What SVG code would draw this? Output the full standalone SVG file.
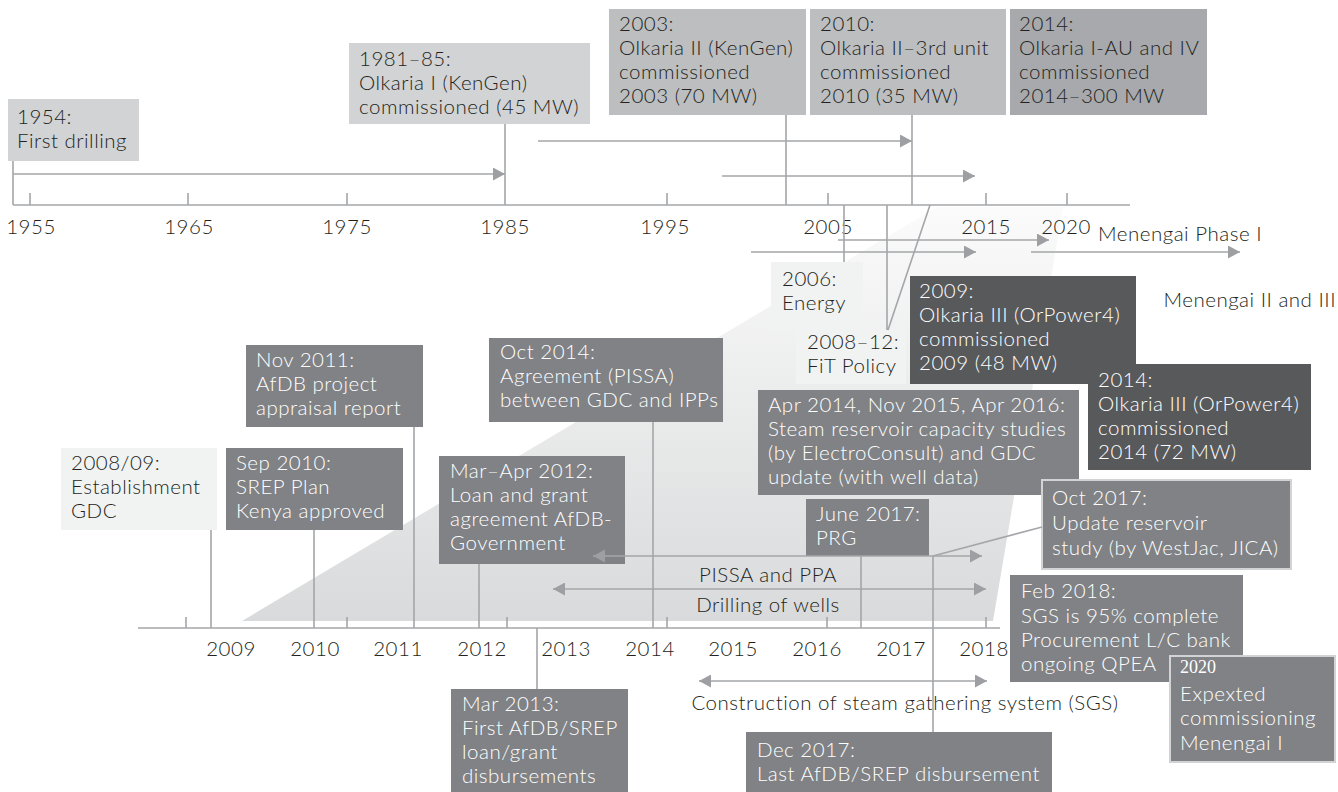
<svg xmlns="http://www.w3.org/2000/svg" width="1338" height="792" viewBox="0 0 1338 792">
<defs>
<style>
.t{font-family:Lato,"Liberation Sans",sans-serif;font-size:20.5px;font-weight:300;letter-spacing:0.5px;fill:#231f20}
.w{fill:#ffffff}
.m{text-anchor:middle}
.e{text-anchor:end}
.ln{stroke:#a4a6a9;stroke-width:1.6;fill:none}
.ar{marker-end:url(#ah)}
.da{marker-start:url(#ahs);marker-end:url(#ah)}
.b1{fill:#d1d3d4}
.b2{fill:#bcbec0}
.b3{fill:#a7a9ac}
.bm{fill:#808285}
.bd{fill:#58595b}
.bl{fill:#f1f2f2}
.bo{stroke:#d1d3d4;stroke-width:2}
</style>
<marker id="ah" markerUnits="userSpaceOnUse" markerWidth="12" markerHeight="13" refX="12" refY="6.5" orient="auto"><path d="M0,0 L12,6.5 L0,13 z" fill="#9d9fa2"/></marker>
<marker id="ahs" markerUnits="userSpaceOnUse" markerWidth="12" markerHeight="13" refX="12" refY="6.5" orient="auto-start-reverse"><path d="M0,0 L12,6.5 L0,13 z" fill="#9d9fa2"/></marker>
<linearGradient id="zg" x1="0" y1="207" x2="0" y2="621" gradientUnits="userSpaceOnUse"><stop offset="0" stop-color="#fbfbfb"/><stop offset="1" stop-color="#d9dadb"/></linearGradient>
</defs>
<rect width="1338" height="792" fill="#ffffff"/>
<polygon points="242,621 993,621 1063,207 937,207" fill="url(#zg)"/>

<g id="axis-top">
<line class="ln" x1="13" y1="205" x2="1130" y2="205"/>
<path class="ln" d="M30,193V205 M188,193V205 M347,193V205 M667,193V205 M828,193V205 M986,193V205 M1067,193V205"/>
<g class="t m">
<text x="31" y="234">1955</text><text x="189" y="234">1965</text><text x="347" y="234">1975</text><text x="505" y="234">1985</text>
<text x="665" y="234">1995</text><text x="828" y="234">2005</text><text x="986" y="234">2015</text><text x="1066" y="234">2020</text>
</g>
<text class="t" x="1098" y="241">Menengai Phase I</text>
<text class="t e" x="1336" y="307">Menengai II and III</text>
</g>

<g id="axis-bottom">
<line class="ln" x1="138" y1="628" x2="1000" y2="628"/>
<path class="ln" d="M186,617V628 M347,617V628 M507,617V628 M667,617V628 M827,617V628 M986,617V628"/>
<g class="t m">
<text x="231" y="656">2009</text><text x="315" y="656">2010</text><text x="398" y="656">2011</text><text x="482" y="656">2012</text><text x="566" y="656">2013</text>
<text x="650" y="656">2014</text><text x="733" y="656">2015</text><text x="817" y="656">2016</text><text x="901" y="656">2017</text><text x="984" y="656">2018</text>
</g>
<text class="t m" x="768" y="582">PISSA and PPA</text>
<text class="t m" x="768" y="612">Drilling of wells</text>
<text class="t m" x="905" y="710">Construction of steam gathering system (SGS)</text>
</g>

<g id="n1954"><rect class="b1" x="8" y="99" width="131" height="62"/><text class="t" x="17" y="124">1954:</text><text class="t" x="17" y="148">First drilling</text></g>
<g id="n1981"><rect class="b1" x="349" y="43" width="241" height="81"/><text class="t" x="359" y="66">1981–85:</text><text class="t" x="359" y="90">Olkaria I (KenGen)</text><text class="t" x="359" y="114">commissioned (45 MW)</text></g>
<g id="n2003"><rect class="b2" x="609" y="9" width="197" height="106"/><text class="t" x="619" y="31">2003:</text><text class="t" x="619" y="55">Olkaria II (KenGen)</text><text class="t" x="619" y="79">commissioned</text><text class="t" x="619" y="103">2003 (70 MW)</text></g>
<g id="n2010"><rect class="b2" x="810" y="9" width="196" height="106"/><text class="t" x="820" y="31">2010:</text><text class="t" x="820" y="55">Olkaria II–3rd unit</text><text class="t" x="820" y="79">commissioned</text><text class="t" x="820" y="103">2010 (35 MW)</text></g>
<g id="n2014a"><rect class="b3" x="1010" y="9" width="197" height="106"/><text class="t" x="1019" y="31">2014:</text><text class="t" x="1019" y="55">Olkaria I-AU and IV</text><text class="t" x="1019" y="79">commissioned</text><text class="t" x="1019" y="103">2014–300 MW</text></g>

<g id="n2006"><rect class="bl" x="771" y="262" width="92" height="68"/><text class="t" x="782" y="286">2006:</text><text class="t" x="782" y="310">Energy</text></g>
<g id="nFiT"><rect class="bl" x="796" y="330" width="110" height="54"/><text class="t" x="807" y="349">2008–12:</text><text class="t" x="807" y="373">FiT Policy</text></g>
<g id="n2009"><rect class="bd" x="910" y="276" width="226" height="108"/><text class="t w" x="919" y="298">2009:</text><text class="t w" x="919" y="322">Olkaria III (OrPower4)</text><text class="t w" x="919" y="346">commissioned</text><text class="t w" x="919" y="370">2009 (48 MW)</text></g>
<g id="n2014b"><rect class="bd" x="1088" y="364" width="223" height="106"/><text class="t w" x="1098" y="387">2014:</text><text class="t w" x="1098" y="411">Olkaria III (OrPower4)</text><text class="t w" x="1098" y="435">commissioned</text><text class="t w" x="1098" y="459">2014 (72 MW)</text></g>

<g id="nNov2011"><rect class="bm" x="246" y="345" width="177" height="82"/><text class="t w" x="256" y="367">Nov 2011:</text><text class="t w" x="256" y="391">AfDB project</text><text class="t w" x="256" y="415">appraisal report</text></g>
<g id="n2008"><rect class="bl" x="61" y="448" width="156" height="82"/><text class="t" x="71" y="470">2008/09:</text><text class="t" x="71" y="494">Establishment</text><text class="t" x="71" y="518">GDC</text></g>
<g id="nSep2010"><rect class="bm" x="226" y="448" width="177" height="82"/><text class="t w" x="236" y="470">Sep 2010:</text><text class="t w" x="236" y="494">SREP Plan</text><text class="t w" x="236" y="518">Kenya approved</text></g>
<g id="nOct2014"><rect class="bm" x="489" y="338" width="234" height="84"/><text class="t w" x="500" y="359">Oct 2014:</text><text class="t w" x="500" y="383">Agreement (PISSA)</text><text class="t w" x="500" y="407">between GDC and IPPs</text></g>
<g id="nMarApr2012"><rect class="bm" x="439" y="456" width="186" height="108"/><text class="t w" x="450" y="478">Mar–Apr 2012:</text><text class="t w" x="450" y="502">Loan and grant</text><text class="t w" x="450" y="526">agreement AfDB-</text><text class="t w" x="450" y="550">Government</text></g>
<g id="nApr2014"><rect class="bm" x="758" y="390" width="321" height="105"/><text class="t w" x="768" y="412">Apr 2014, Nov 2015, Apr 2016:</text><text class="t w" x="768" y="436">Steam reservoir capacity studies</text><text class="t w" x="768" y="460">(by ElectroConsult) and GDC</text><text class="t w" x="768" y="484">update (with well data)</text></g>
<g id="nJune2017"><rect class="bm" x="806" y="499" width="123" height="57"/><text class="t w" x="816" y="521">June 2017:</text><text class="t w" x="816" y="545">PRG</text></g>
<g id="nOct2017"><rect class="bm bo" x="1042" y="480" width="249" height="89"/><text class="t w" x="1052" y="505">Oct 2017:</text><text class="t w" x="1052" y="530">Update reservoir</text><text class="t w" x="1052" y="555">study (by WestJac, JICA)</text></g>
<g id="nFeb2018"><rect class="bm" x="1010" y="575" width="233" height="107"/><text class="t w" x="1021" y="598">Feb 2018:</text><text class="t w" x="1021" y="623">SGS is 95% complete</text><text class="t w" x="1021" y="647">Procurement L/C bank</text><text class="t w" x="1021" y="671">ongoing QPEA</text></g>
<g id="n2020"><rect class="bm bo" x="1170" y="656" width="165" height="106"/><text class="w" x="1180" y="673" font-family="'Liberation Serif',serif" font-size="18" font-weight="400">2020</text><text class="t w" x="1180" y="701">Expexted</text><text class="t w" x="1180" y="725">commissioning</text><text class="t w" x="1180" y="750">Menengai I</text></g>
<g id="nMar2013"><rect class="bm" x="451" y="689" width="177" height="103"/><text class="t w" x="462" y="711">Mar 2013:</text><text class="t w" x="462" y="735">First AfDB/SREP</text><text class="t w" x="462" y="759">loan/grant</text><text class="t w" x="462" y="783">disbursements</text></g>
<g id="nDec2017"><rect class="bm" x="746" y="732" width="306" height="60"/><text class="t w" x="757" y="757">Dec 2017:</text><text class="t w" x="757" y="781">Last AfDB/SREP disbursement</text></g>

<g id="connectors">
<path class="ln" d="M13,161V205 M505,124V205 M786,115V205 M912,115V205"/>
<line class="ln ar" x1="13" y1="174" x2="505" y2="174"/>
<line class="ln ar" x1="538" y1="141" x2="912" y2="141"/>
<line class="ln ar" x1="722" y1="176" x2="975" y2="176"/>
<path class="ln" d="M844,205V262 M887,205V330 M930,205L888,330"/>
<line class="ln ar" x1="838" y1="240" x2="1049" y2="240"/>
<line class="ln ar" x1="751" y1="252" x2="976" y2="252"/>
<line class="ln ar" x1="1031" y1="252" x2="1240" y2="252"/>
<path class="ln" d="M211,530V628 M314,530V628 M414,427V628 M479,564V628 M537,628V689 M653,422V628 M861,556V628 M933,556V732 M933,556L1042,527"/>
<line class="ln da" x1="593" y1="556" x2="982" y2="556"/>
<line class="ln da" x1="553" y1="589" x2="986" y2="589"/>
<line class="ln da" x1="699" y1="681" x2="987" y2="681"/>
</g>
</svg>
